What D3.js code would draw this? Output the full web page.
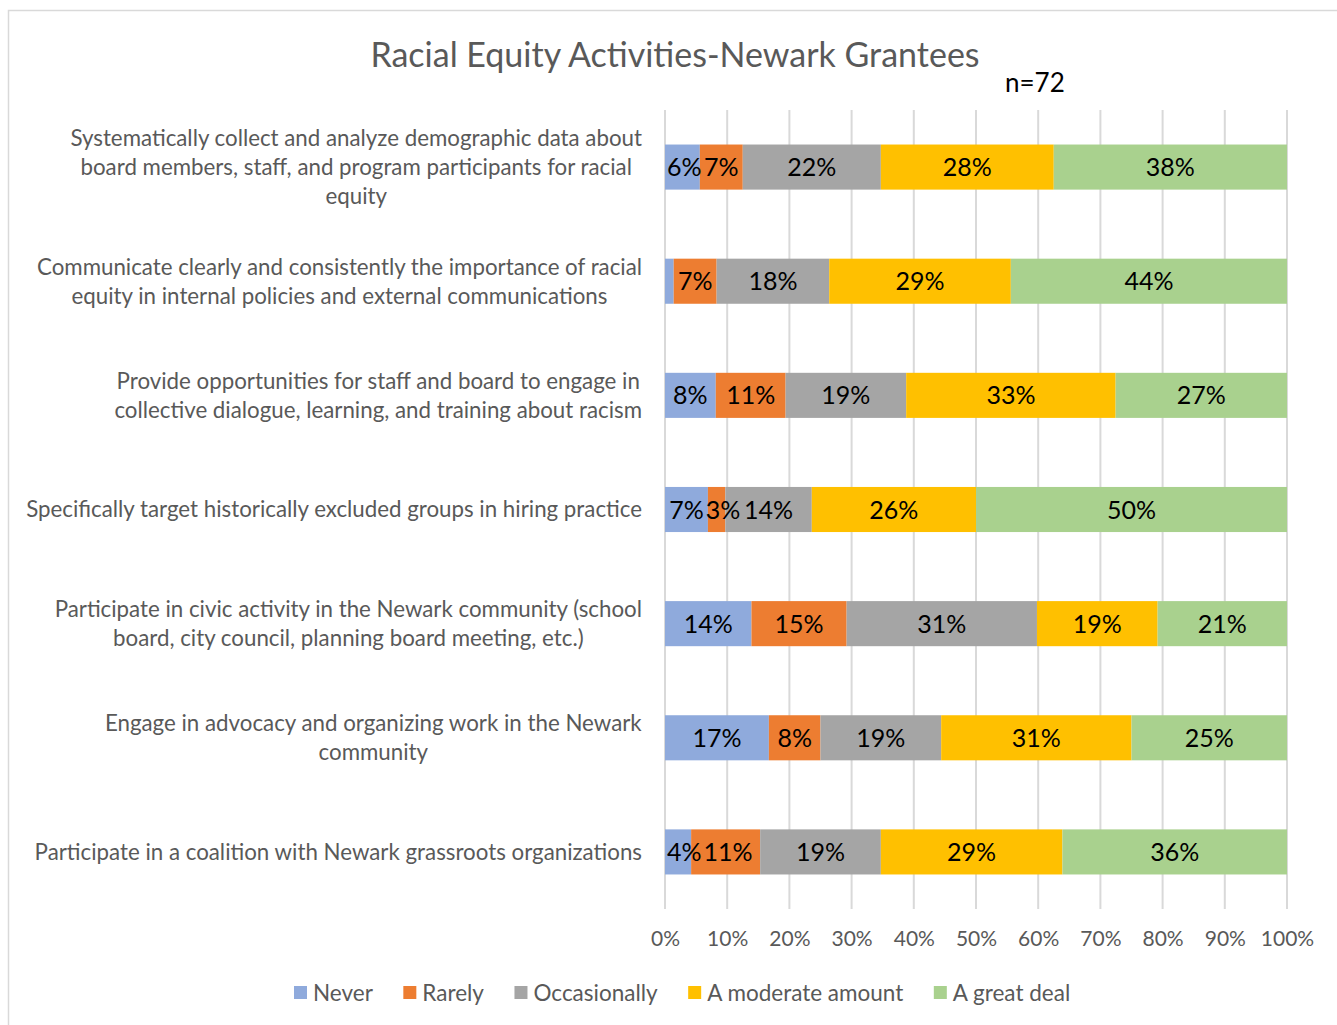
<!DOCTYPE html>
<html>
<head>
<meta charset="utf-8">
<script src="https://cdn.jsdelivr.net/npm/d3@7"></script>
<style>
  body { margin: 0; background: #fff; }
  svg { font-family: Lato, "Open Sans", sans-serif; }
</style>
</head>
<body>
<svg id="chart"></svg>
<script>
// categories, one array of lines per bar (top to bottom)
const categories = [
  ["Systematically collect and analyze demographic data about", "board members, staff, and program participants for racial", "equity"],
  ["Communicate clearly and consistently the importance of racial", "equity in internal policies and external communications"],
  ["Provide opportunities for staff and board to engage in", "collective dialogue, learning, and training about racism"],
  ["Specifically target historically excluded groups in hiring practice"],
  ["Participate in civic activity in the Newark community (school", "board, city council, planning board meeting, etc.)"],
  ["Engage in advocacy and organizing work in the Newark", "community"],
  ["Participate in a coalition with Newark grassroots organizations"]
];
const seriesNames = ["Never", "Rarely", "Occasionally", "A moderate amount", "A great deal"];
const seriesColors = ["#8faadc", "#ed7d31", "#a5a5a5", "#ffc000", "#a9d18e"];

// percent values per series, same order as categories
const never      = [5.6, 1.4, 8, 6.9, 13.9, 16.7, 4.2];
const rarely     = [6.9, 6.9, 11, 2.8, 15.3, 8.3, 11.1];
const occasional = [22.2, 18.1, 19, 13.9, 30.6, 19.4, 19.4];
const moderate   = [27.8, 29.2, 33, 26.4, 19.4, 30.6, 29.2];
const greatDeal  = [37.5, 44.4, 27, 50, 20.8, 25, 36.1];
const hiddenLabelBelow = 2; // Excel label for the 1% slice was removed

const xTicks = [0, 0.1, 0.2, 0.3, 0.4, 0.5, 0.6, 0.7, 0.8, 0.9, 1];
const title = "Racial Equity Activities-Newark Grantees";
const note = "n=72";

const W = 1337, H = 1025;
const margin = {top: 110, right: 50, bottom: 116, left: 665};
const width = 1287 - margin.left;
const height = 909 - margin.top;

const svg = d3.select('#chart').attr('width', W).attr('height', H);

// chart border
svg.append('rect')
  .attr('x', 8.5).attr('y', 10.5)
  .attr('width', W + 10).attr('height', H + 10)
  .attr('fill', 'none').attr('stroke', '#d9d9d9').attr('stroke-width', 1.5);

svg.append('text')
  .attr('x', 675).attr('y', 67)
  .attr('text-anchor', 'middle')
  .attr('font-size', 34).attr('fill', '#595959')
  .text(title);

svg.append('text')
  .attr('x', 1005).attr('y', 92)
  .attr('font-size', 26).attr('fill', '#000')
  .text(note);

const g = svg.append('g').attr('transform', `translate(${margin.left},${margin.top})`);

const rows = categories.map((c, i) => ({
  idx: i,
  Never: never[i], Rarely: rarely[i], Occasionally: occasional[i],
  "A moderate amount": moderate[i], "A great deal": greatDeal[i]
}));

const stack = d3.stack().keys(seriesNames).offset(d3.stackOffsetExpand);
const stacked = stack(rows);

const xscale = d3.scaleLinear().domain([0, 1]).range([0, width]);
const yscale = d3.scaleBand().domain(d3.range(categories.length)).range([0, height]).paddingInner(0.605).paddingOuter(0.3025);
const cscale = d3.scaleOrdinal().domain(seriesNames).range(seriesColors);

// gridlines
g.append('g')
  .selectAll('line').data(xTicks).enter().append('line')
  .attr('x1', (d) => xscale(d)).attr('x2', (d) => xscale(d))
  .attr('y1', 0).attr('y2', height)
  .attr('stroke', '#d9d9d9').attr('stroke-width', 2);

// x axis labels
const xaxis = d3.axisBottom(xscale).tickValues(xTicks).tickFormat(d3.format('.0%')).tickSize(0).tickPadding(22);
const g_xaxis = g.append('g').attr('transform', `translate(0,${height})`).call(xaxis);
g_xaxis.select('.domain').remove();
g_xaxis.selectAll('text').attr('font-size', 21).attr('fill', '#595959').attr('font-family', 'Lato');

// bars
const layer = g.selectAll('g.layer').data(stacked).enter().append('g')
  .attr('class', 'layer')
  .attr('fill', (d) => cscale(d.key));

layer.selectAll('rect').data((d) => d).enter().append('rect')
  .attr('x', (d) => xscale(d[0]))
  .attr('y', (d) => yscale(d.data.idx))
  .attr('width', (d) => xscale(d[1]) - xscale(d[0]))
  .attr('height', yscale.bandwidth());

// data labels (drawn on top, per row left to right so small ones don't collide)
const labelG = g.append('g');
rows.forEach((row, i) => {
  let prevRight = 2;
  stacked.forEach((s) => {
    const p = s[i];
    if (row[s.key] < hiddenLabelBelow) return;
    const t = labelG.append('text')
      .attr('y', yscale(i) + yscale.bandwidth() / 2)
      .attr('dy', '0.36em')
      .attr('font-size', 25).attr('fill', '#000')
      .text(Math.round(row[s.key]) + '%');
    const w = t.node().getComputedTextLength();
    let left = (xscale(p[0]) + xscale(p[1])) / 2 - w / 2;
    if (left < prevRight) left = prevRight;
    t.attr('x', left);
    prevRight = left + w + 2;
  });
});

// category labels
const lineH = 29;
const catG = g.append('g');
categories.forEach((lines, i) => {
  const cy = yscale(i) + yscale.bandwidth() / 2;
  const t = catG.append('text')
    .attr('font-size', 22.3).attr('fill', '#595959');
  lines.forEach((ln, j) => {
    t.append('tspan').attr('x', 0)
      .attr('y', cy + (j - (lines.length - 1) / 2) * lineH)
      .attr('dy', '0.35em')
      .text(ln);
  });
  // right align block at x = -23, lines centered among themselves
  const bb = t.node().getBBox();
  const right = -23;
  t.selectAll('tspan').each(function () {
    const w = this.getComputedTextLength();
    d3.select(this).attr('x', right - bb.width / 2 - w / 2);
  });
});

// legend
const legendItems = seriesNames.map((name, i) => ({name, color: seriesColors[i]}));
const lg = svg.append('g').attr('transform', 'translate(0,993)');
let lx = 294;
legendItems.forEach((d) => {
  lg.append('rect').attr('x', lx).attr('y', -7).attr('width', 13).attr('height', 13).attr('fill', d.color);
  const txt = lg.append('text').attr('x', lx + 19).attr('y', 0).attr('dy', '0.35em')
    .attr('font-size', 22.5).attr('fill', '#595959').text(d.name);
  lx += 19 + txt.node().getComputedTextLength() + 30.5;
});
</script>
</body>
</html>
